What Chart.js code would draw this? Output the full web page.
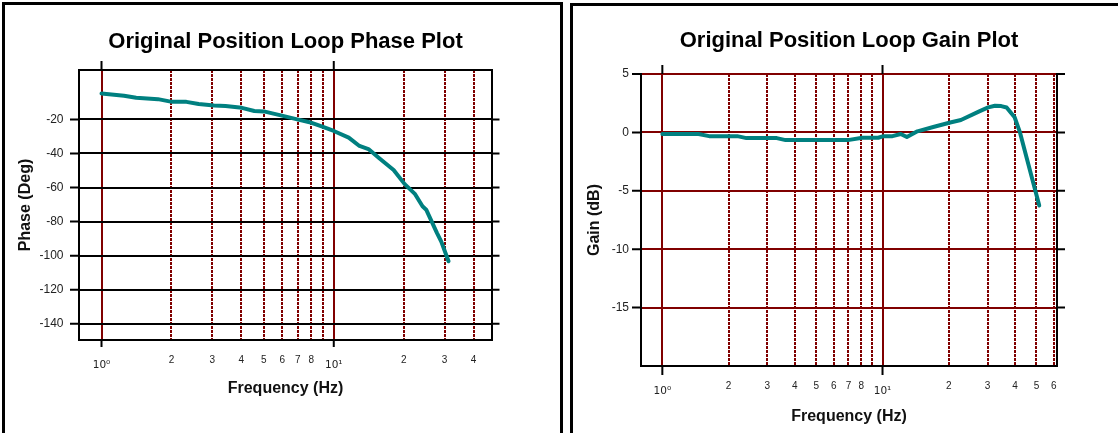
<!DOCTYPE html>
<html><head><meta charset="utf-8">
<script src="https://cdn.jsdelivr.net/npm/chart.js@4.4.1/dist/chart.umd.min.js"></script>
<style>
html,body{margin:0;padding:0;background:#fff;}
body{width:1118px;height:433px;overflow:hidden;position:relative;}
.panel{position:absolute;border:3px solid #000;box-sizing:border-box;}
#p1{left:2px;top:2px;width:561px;height:460px;}
#p2{left:570px;top:3px;width:560px;height:460px;}
canvas{position:absolute;}
#c1{left:5px;top:5px;}
#c2{left:573px;top:6px;}
</style></head>
<body>
<div class="panel" id="p1"></div><div class="panel" id="p2"></div>
<canvas id="c1" width="555" height="428"></canvas>
<canvas id="c2" width="545" height="427"></canvas>
<script>
// ---- data ----
const phaseFreq = [1.0, 1.25, 1.41, 1.75, 2.01, 2.32, 2.62, 3.05, 3.42, 4.02, 4.55, 5.0, 6.04, 6.96, 8.03, 8.93, 10, 11.6, 12.9, 14.1, 15.7, 18.1, 20.2, 22.4, 24.1, 25.0, 27.8, 29.0, 31.2];
const phaseDeg  = [-4.8, -6.1, -7.3, -8.1, -9.7, -9.7, -11, -11.8, -12.2, -13.2, -15.1, -15.3, -17.9, -20, -22, -24.3, -26.8, -30.7, -35.6, -37.4, -42.8, -49.7, -58, -63.9, -71, -73, -86.6, -91.6, -103.3];
const gainFreq = [1, 1.46, 1.63, 2.19, 2.41, 3.31, 3.63, 6.96, 8.09, 9.56, 10.1, 11.1, 12.1, 12.9, 14.4, 17.0, 20.3, 22.7, 27.5, 30.2, 32.4, 34.6, 36.6, 39.8, 42.1, 45.1, 51.5];
const gainDb   = [-0.14, -0.14, -0.32, -0.32, -0.49, -0.49, -0.66, -0.66, -0.46, -0.46, -0.32, -0.32, -0.14, -0.4, 0.09, 0.46, 0.85, 1.06, 1.8, 2.14, 2.28, 2.25, 2.13, 1.3, 0.0, -2.14, -6.26];

const phaseXTicks  = [1, 2, 3, 4, 5, 6, 7, 8, 9, 10, 20, 30, 40];
const phaseXLabels = ['10⁰', '2', '3', '4', '5', '6', '7', '8', '', '10¹', '2', '3', '4'];
const gainXTicks   = [1, 2, 3, 4, 5, 6, 7, 8, 9, 10, 20, 30, 40, 50, 60];
const gainXLabels  = ['10⁰', '2', '3', '4', '5', '6', '7', '8', '', '10¹', '2', '3', '4', '5', '6'];
const phaseYTicks  = [-140, -120, -100, -80, -60, -40, -20];
const gainYTicks   = [-15, -10, -5, 0, 5];
const majorX = [1, 10];

Chart.defaults.font.family = "'Liberation Sans', Arial, Helvetica, sans-serif";
Chart.defaults.color = '#000';
const DARK_RED = '#800000', TEAL = '#008080';

const framePlugin = {
  id: 'frame',
  beforeDatasetsDraw(chart, args, o) {
    const {ctx, chartArea: a, scales: {x, y}} = chart;
    ctx.save();
    ctx.strokeStyle = '#000';
    ctx.lineWidth = 2;
    ctx.setLineDash([]);
    ctx.lineJoin = 'miter';
    ctx.beginPath();
    if (o.top) {
      ctx.moveTo(a.left, a.top); ctx.lineTo(a.left, a.bottom); ctx.lineTo(a.right, a.bottom); ctx.lineTo(a.right, a.top); ctx.closePath();
    } else {
      ctx.moveTo(a.left, a.top - 1); ctx.lineTo(a.left, a.bottom); ctx.lineTo(a.right, a.bottom); ctx.lineTo(a.right, a.top - 1);
    }
    ctx.stroke();
    ctx.beginPath();
    y.ticks.forEach(t => {
      const py = y.getPixelForValue(t.value);
      ctx.moveTo(a.left - o.yOutL, py); ctx.lineTo(a.left, py);
      ctx.moveTo(a.right, py); ctx.lineTo(a.right + o.yOutR, py);
    });
    majorX.forEach(v => {
      const px = x.getPixelForValue(v);
      ctx.moveTo(px, a.top - o.majTop); ctx.lineTo(px, a.top);
      ctx.moveTo(px, a.bottom); ctx.lineTo(px, a.bottom + o.majBot);
    });
    ctx.stroke();
    ctx.restore();
  }
};

function makeChart(id, c) {
  return new Chart(document.getElementById(id), {
    type: 'line',
    data: {
      datasets: [{
        data: c.freq.map((f, i) => ({x: f, y: c.vals[i]})),
        borderColor: TEAL, borderWidth: 4, pointRadius: 0, tension: 0, fill: false,
        borderJoinStyle: 'round', borderCapStyle: 'round'
      }]
    },
    options: {
      responsive: false, animation: false, events: [],
      layout: {padding: {left: 0, top: 0, right: c.padRight, bottom: 0}},
      plugins: {
        legend: {display: false}, tooltip: {enabled: false},
        title: {display: true, fullSize: false, text: c.title, color: '#000', font: {size: 22, weight: 'bold'}, padding: {top: c.tTop, bottom: c.tBot}},
        frame: c.frame
      },
      scales: {
        x: {
          type: 'logarithmic', min: 0.8, max: c.xMax, bounds: 'data',
          afterBuildTicks: s => { s.ticks = c.xTicks.map(v => ({value: v})); },
          afterFit: s => { s.height = c.xAxisH; },
          ticks: {
            autoSkip: false, maxRotation: 0, minRotation: 0, padding: 14, color: '#222',
            callback: (v, i) => majorX.includes(c.xTicks[i]) ? ['', c.xLabels[i]] : c.xLabels[i],
            font: ctx => (ctx.tick && majorX.includes(ctx.tick.value))
              ? {family: "'DejaVu Sans', sans-serif", size: 10.5, lineHeight: 0.72}
              : {size: 10, lineHeight: 1.2}
          },
          grid: {color: DARK_RED, lineWidth: 2, drawTicks: false},
          border: {display: false, dash: ctx => (ctx.tick && !majorX.includes(ctx.tick.value)) ? [3, 1] : []},
          title: {display: true, text: 'Frequency (Hz)', color: '#111', font: {size: 16, weight: 'bold'}, padding: {top: 0, bottom: c.xTitlePad}}
        },
        y: {
          type: 'linear', min: c.yMin, max: c.yMax, bounds: 'data',
          afterBuildTicks: s => { s.ticks = c.yTicks.map(v => ({value: v})); },
          afterFit: s => { s.width = c.yAxisW; },
          ticks: {padding: c.yTickPad, color: '#222', font: {size: 12}, callback: v => String(v)},
          grid: {color: c.yGridColor, lineWidth: 2, drawTicks: false},
          border: {display: false},
          title: {display: true, text: c.yTitle, color: '#111', font: {size: 16, weight: 'bold'}, padding: {top: c.yTitlePad, bottom: 0}}
        }
      }
    },
    plugins: [framePlugin]
  });
}

makeChart('c1', {
  title: 'Original Position Loop Phase Plot', yTitle: 'Phase (Deg)',
  freq: phaseFreq, vals: phaseDeg,
  xTicks: phaseXTicks, xLabels: phaseXLabels, xMax: 48,
  yTicks: phaseYTicks, yMin: -149.5, yMax: 9, yGridColor: '#000',
  padRight: 68, yAxisW: 74, xAxisH: 93, tTop: 23.5, tBot: 15.1,
  yTickPad: 15.5, yTitlePad: 11.4, xTitlePad: 35,
  frame: {top: true, yOutL: 9, yOutR: 7.5, majTop: 9, majBot: 7}
});

makeChart('c2', {
  title: 'Original Position Loop Gain Plot', yTitle: 'Gain (dB)',
  freq: gainFreq, vals: gainDb,
  xTicks: gainXTicks, xLabels: gainXLabels, xMax: 62,
  yTicks: gainYTicks, yMin: -20, yMax: 5, yGridColor: DARK_RED,
  padRight: 61, yAxisW: 68, xAxisH: 67, tTop: 21.8, tBot: 19.8,
  yTickPad: 12, yTitlePad: 12.4, xTitlePad: 7,
  frame: {top: false, yOutL: 9, yOutR: 8, majTop: 9, majBot: 9}
});
</script>
</body></html>
